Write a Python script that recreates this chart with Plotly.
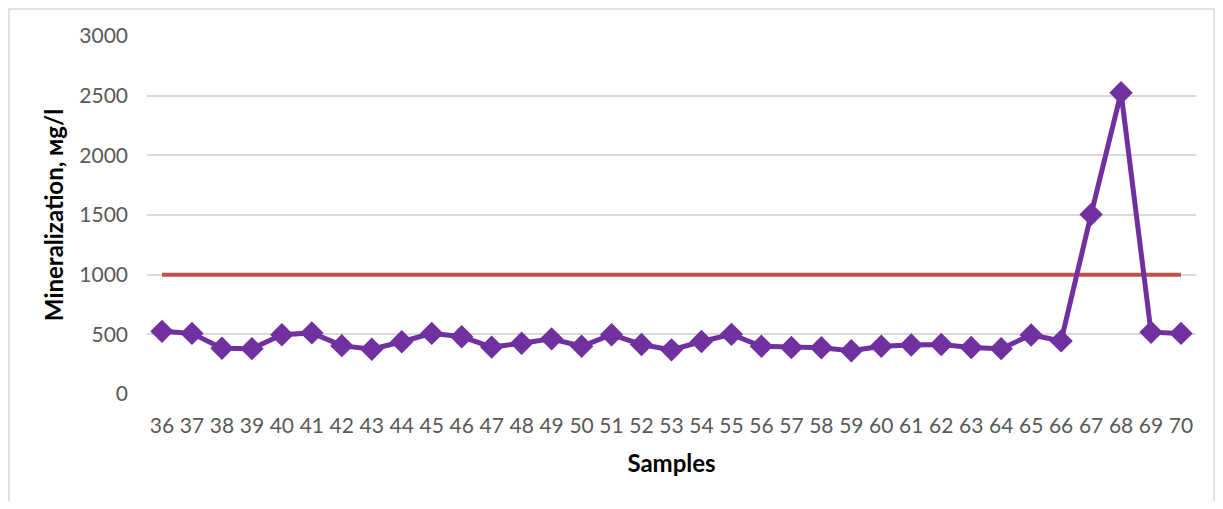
import plotly.graph_objects as go

samples = list(range(36, 71))
mineralization = [525, 508, 383, 380, 497, 512, 405, 375, 438, 508,
                  480, 393, 425, 462, 400, 497, 415, 370, 440, 500,
                  400, 390, 387, 362, 400, 410, 415, 390, 380, 495,
                  445, 1505, 2525, 518, 508]
limit = [1000] * len(samples)

fig = go.Figure()

# permissible limit line
fig.add_trace(go.Scatter(
    x=samples, y=limit, mode="lines",
    line=dict(color="#C0504D", width=4),
    showlegend=False, name="limit"
))

# measured values
fig.add_trace(go.Scatter(
    x=samples, y=mineralization, mode="lines+markers",
    line=dict(color="#7030A0", width=5),
    marker=dict(symbol="diamond", size=18, color="#7030A0"),
    showlegend=False, name="mineralization"
))

# page body has an 8px margin, so the figure is sized to fit inside it
fig.update_layout(
    width=1207, height=493,
    margin=dict(l=139, r=19, t=28, b=107),
    paper_bgcolor="white", plot_bgcolor="white",
    font=dict(family="Lato", size=21, color="#595959"),
)

fig.update_xaxes(
    range=[35.5, 70.5], tickmode="array", tickvals=samples,
    ticktext=[str(s) for s in samples], showgrid=False, zeroline=False,
    showline=False, ticks="", ticklabelstandoff=17,
    title=dict(text="<b>Samples</b>", font=dict(size=24, color="black"), standoff=19),
)
fig.update_yaxes(
    range=[0, 3000], tickvals=[0, 500, 1000, 1500, 2000, 2500, 3000],
    showgrid=True, gridcolor="#D9D9D9", gridwidth=1.5, zeroline=False,
    showline=False, ticks="", ticklabelstandoff=18,
    title=dict(text="<b>Mineralization, мg/l</b>", font=dict(size=24, color="black"), standoff=8),
)

# outer chart border
fig.add_shape(type="rect", xref="paper", yref="paper",
              x0=-0.1316, x1=1.0172, y0=-0.35, y1=1.0754,
              line=dict(color="#D9D9D9", width=1.5), layer="below")

fig.write_html("out.html")
